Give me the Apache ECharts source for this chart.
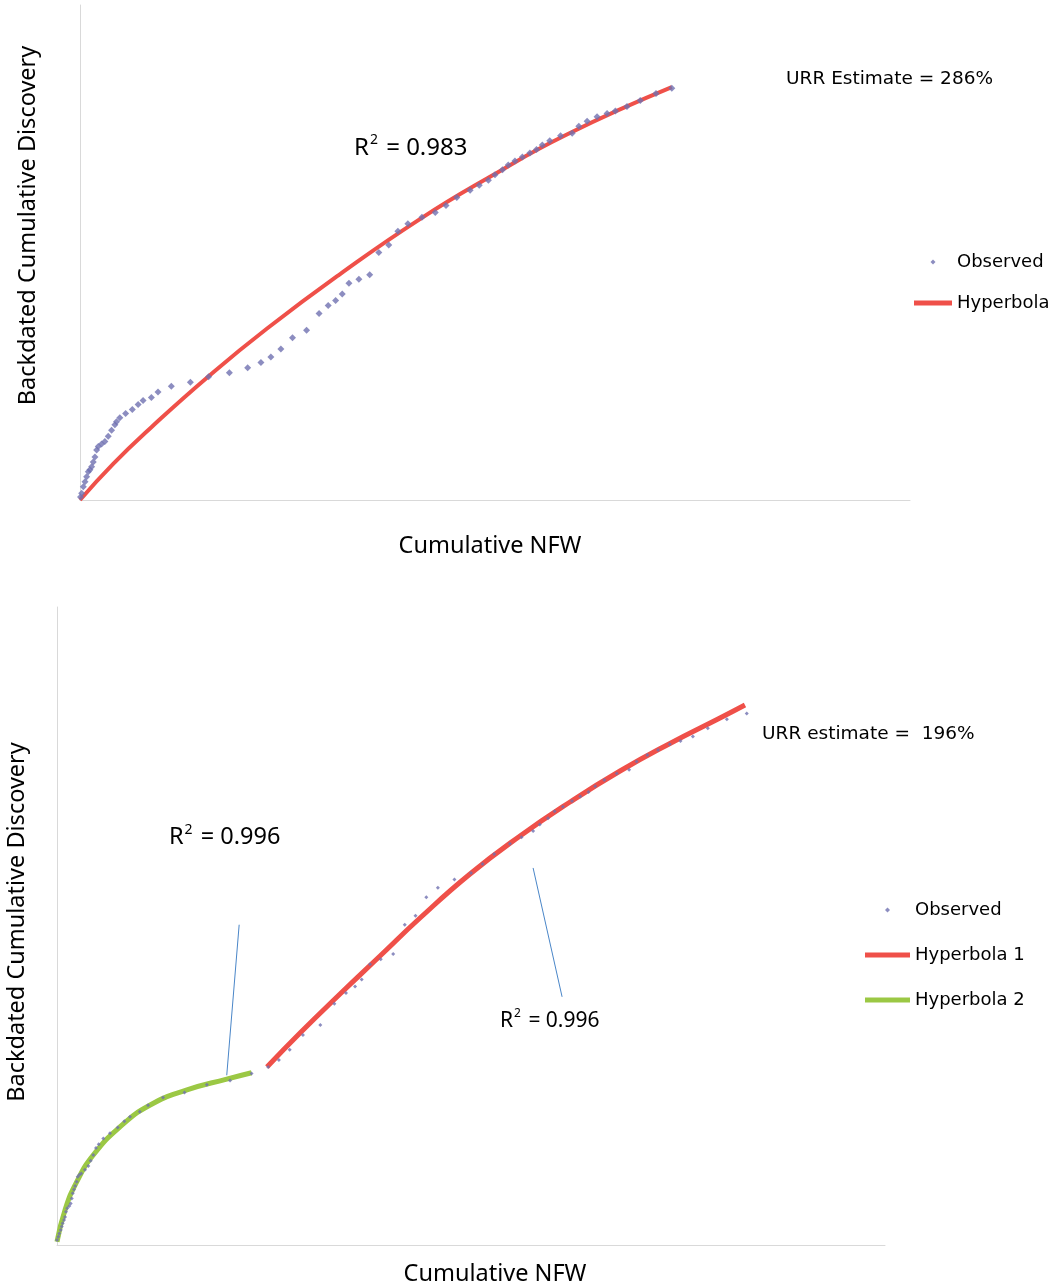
<!DOCTYPE html>
<html>
<head>
<meta charset="utf-8">
<script src="https://cdn.jsdelivr.net/npm/echarts@6/dist/echarts.min.js"></script>
<style>
  html, body { margin: 0; padding: 0; background: #fff; }
  #chart { width: 1057px; height: 1287px; }
</style>
</head>
<body>
<div id="chart"></div>
<script>
// top chart: one hyperbola fit
const topObserved = [
  [0.06, 0.6], [0.2, 1.35], [0.4, 2.7], [0.6, 3.7], [0.8, 4.7], [1.0, 5.7], [1.2, 6.1], [1.4, 6.7],
  [1.6, 7.7], [1.8, 8.7], [2.0, 10.1], [2.2, 10.8], [2.6, 11.3], [3.0, 11.8], [3.4, 12.9], [3.8, 14.1],
  [4.2, 15.2], [4.4, 15.8], [4.8, 16.6], [5.5, 17.5], [6.3, 18.3], [7.0, 19.3], [7.6, 20.1], [8.6, 20.7],
  [9.4, 21.8], [11.0, 23.0], [13.3, 23.8], [15.5, 24.9], [18.0, 25.7], [20.2, 26.7], [21.8, 27.8], [23.0, 28.9],
  [24.2, 30.5], [25.6, 32.8], [27.3, 34.3], [28.8, 37.7], [29.9, 39.3], [30.8, 40.3], [31.6, 41.6], [32.4, 43.8],
  [33.6, 44.6], [34.9, 45.5], [36.0, 50.0], [37.2, 51.5], [38.3, 54.3], [39.5, 55.8], [41.2, 57.1], [42.8, 58.1],
  [44.1, 59.5], [45.4, 61.1], [47.0, 62.6], [48.1, 63.6], [49.2, 64.6], [50.0, 65.7], [50.9, 66.7], [51.6, 67.7],
  [52.4, 68.5], [53.3, 69.3], [54.2, 70.1], [55.0, 70.8], [55.7, 71.7], [56.6, 72.6], [57.9, 73.6], [59.3, 74.1],
  [60.1, 75.5], [61.1, 76.5], [62.3, 77.4], [63.5, 78.1], [64.5, 78.6], [65.9, 79.5], [67.5, 80.7], [69.4, 82.1],
  [71.3, 83.2]
];
const topHyperbola = [
  [0, 0], [4, 7.3], [8.6, 14.7], [15.5, 25], [22.5, 34.6], [31.3, 45.6], [41, 56.8],
  [49.4, 65.3], [58.6, 73.8], [71.3, 83.4]
];

// bottom chart: two hyperbola segments
const bottomObserved = [
  [0, 0.8], [0.16, 1.3], [0.28, 1.8], [0.45, 2.35], [0.57, 2.9], [0.69, 3.4], [0.85, 3.9], [0.97, 4.4],
  [1.09, 5.2], [1.24, 5.75], [1.49, 6.1], [1.65, 6.5], [1.78, 7.3], [1.9, 8.1], [2.05, 8.7], [2.2, 9.25],
  [2.38, 9.9], [2.5, 10.7], [2.7, 11.0], [2.93, 11.2], [3.38, 11.8], [3.78, 12.4], [4.07, 13.2], [4.38, 14.1],
  [4.71, 15.2], [5.04, 15.8], [5.59, 16.7], [6.4, 17.5], [7.33, 18.4], [8.13, 19.4], [8.82, 20.1], [10.0, 20.9],
  [11.0, 21.9], [12.8, 23.1], [15.4, 23.9], [18.1, 25.1], [20.9, 25.8], [23.5, 26.9], [25.5, 27.9], [26.8, 29.0],
  [28.1, 30.6], [29.7, 32.9], [31.8, 34.5], [33.5, 37.8], [34.9, 39.5], [36.0, 40.5], [36.8, 41.6], [37.8, 44.0],
  [39.1, 44.8], [40.6, 45.6], [42.0, 50.2], [43.3, 51.6], [44.6, 54.5], [46.0, 56.0], [48.0, 57.3], [50.0, 58.3],
  [51.4, 59.7], [52.8, 61.3], [54.7, 62.9], [56.1, 63.9], [57.5, 64.9], [58.3, 65.9], [59.3, 66.9], [60.1, 68.0],
  [61.1, 68.7], [62.2, 69.6], [63.2, 70.3], [64.2, 71.0], [65.0, 71.9], [66.1, 72.9], [67.6, 73.9], [69.1, 74.5],
  [70.0, 75.8], [71.3, 76.8], [72.6, 77.6], [74.0, 78.5], [75.3, 79.0], [76.8, 79.7], [78.6, 81.0], [80.9, 82.4],
  [83.3, 83.3]
];
const bottomHyperbola1 = [
  [25.36, 27.9], [29.35, 33.23], [34.18, 39.34], [39.01, 45.3], [43.84, 51.25], [49.88, 58.15],
  [55.92, 64.11], [61.96, 69.44], [68.0, 74.29], [74.03, 78.61], [80.07, 82.6], [83.09, 84.64]
];
const bottomHyperbola2 = [
  [0, 0.5], [0.97, 5.5], [2.38, 9.9], [4.38, 14.1], [7.6, 18.5], [11.2, 21.9],
  [15.7, 24.3], [20.5, 26.0], [23.5, 27.0]
];
// leader lines from the R² labels to the curves
const leaderLines = [
  [[22.0, 50.2], [20.5, 26.6]],
  [[57.5, 59.1], [61.0, 38.9]]
];

const FONT = 'Noto Sans';
const FONT2 = 'DejaVu Sans';
const RED = '#ef5049';
const GREEN = '#9bc844';
const BLUE = '#6f71b0';
const AXIS = '#d9d9d9';
const DIAMOND = 'path://M5,0L10,5L5,10L0,5Z';

// pad shifts the title off the axis centre, like the original
function plainAxis(idx, name, gap, pad) {
  return {
    gridIndex: idx, type: 'value', min: 0, max: 100,
    name: name, nameLocation: 'middle', nameGap: gap,
    nameTextStyle: { fontFamily: FONT, fontSize: 23.5, color: '#000', padding: pad },
    axisLine: { show: true, lineStyle: { color: AXIS, width: 1 } },
    axisTick: { show: false }, axisLabel: { show: false }, splitLine: { show: false }
  };
}

function r2Label(value, left, top, size) {
  return {
    text: '{a|R}{s|2}{a| = ' + value + '}',
    left: left, top: top, padding: 0,
    textStyle: {
      fontWeight: 'normal',
      rich: {
        a: { fontFamily: FONT, fontSize: size, fontWeight: 'normal', color: '#000', lineHeight: size + 6 },
        s: { fontFamily: FONT, fontSize: Math.round(size * 0.58), fontWeight: 'normal', color: '#000',
             verticalAlign: 'top', lineHeight: 14, padding: [0, 2, 0, 1] }
      }
    }
  };
}

function legendBox(left, top, width, gap, names) {
  return {
    orient: 'vertical', left: left, top: top, padding: 0,
    itemWidth: width, itemHeight: 5, itemGap: gap, symbolKeepAspect: true,
    textStyle: { fontFamily: FONT2, fontSize: 18, color: '#000', lineHeight: 20 },
    data: names.map(n => ({ name: n, icon: n === 'Observed' ? DIAMOND : 'rect' }))
  };
}

const chart = echarts.init(document.getElementById('chart'));

chart.setOption({
  animation: false,
  backgroundColor: '#fff',
  grid: [
    { left: 80, top: 5, width: 830, height: 495, containLabel: false, outerBoundsMode: 'none' },
    { left: 57, top: 607, width: 828, height: 638, containLabel: false, outerBoundsMode: 'none' }
  ],
  xAxis: [
    plainAxis(0, 'Cumulative NFW', 34, [0, 10, 0, 0]),
    plainAxis(1, 'Cumulative NFW', 17, [0, 0, 0, 48])
  ],
  yAxis: [
    plainAxis(0, 'Backdated Cumulative Discovery', 40, [0, 0, 0, 54]),
    plainAxis(1, 'Backdated Cumulative Discovery', 28, [0, 0, 0, 8])
  ],
  title: [
    r2Label('0.983', 354, 133, 24),
    { text: 'URR Estimate = 286%', left: 786, top: 70, padding: 0,
      textStyle: { fontFamily: FONT2, fontSize: 18.5, fontWeight: 'normal', color: '#000' } },
    r2Label('0.996', 169, 823, 23.5),
    r2Label('0.996', 500, 1008, 21),
    { text: 'URR estimate =  196%', left: 762, top: 725, padding: 0,
      textStyle: { fontFamily: FONT2, fontSize: 18.5, fontWeight: 'normal', color: '#000' } }
  ],
  legend: [
    legendBox(914, 252, 38, 21, ['Observed', 'Hyperbola']),
    legendBox(865, 900, 45, 25, ['Observed', 'Hyperbola 1', 'Hyperbola 2'])
  ],
  series: [
    {
      name: 'Hyperbola', type: 'line', xAxisIndex: 0, yAxisIndex: 0, data: topHyperbola,
      smooth: true, showSymbol: false, color: RED, lineStyle: { color: RED, width: 4 }, z: 2
    },
    {
      name: 'Observed', type: 'scatter', xAxisIndex: 0, yAxisIndex: 0, data: topObserved,
      symbol: 'diamond', symbolSize: 7, itemStyle: { color: BLUE }, z: 3
    },
    {
      name: 'Hyperbola 1', type: 'line', xAxisIndex: 1, yAxisIndex: 1, data: bottomHyperbola1,
      smooth: true, showSymbol: false, color: RED, lineStyle: { color: RED, width: 5 }, z: 2,
      markLine: {
        silent: true, symbol: 'none', label: { show: false },
        lineStyle: { color: '#4a86c8', width: 1, type: 'solid' },
        data: leaderLines.map(l => [{ coord: l[0] }, { coord: l[1] }])
      }
    },
    {
      name: 'Hyperbola 2', type: 'line', xAxisIndex: 1, yAxisIndex: 1, data: bottomHyperbola2,
      smooth: true, showSymbol: false, color: GREEN, lineStyle: { color: GREEN, width: 5 }, z: 2
    },
    {
      name: 'Observed', type: 'scatter', xAxisIndex: 1, yAxisIndex: 1, data: bottomObserved,
      symbol: 'diamond', symbolSize: 4, itemStyle: { color: BLUE }, z: 3
    }
  ]
});
</script>
</body>
</html>
